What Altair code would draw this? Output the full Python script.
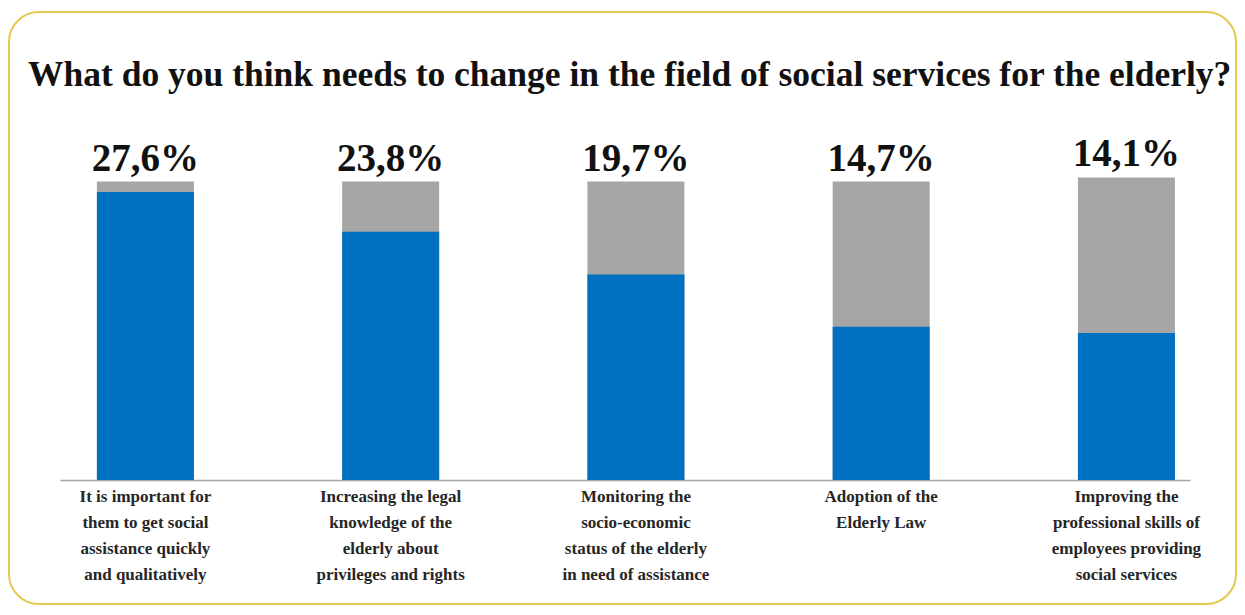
import altair as alt
import pandas as pd

title_text = "What do you think needs to change in the field of social services for the elderly?"
categories = [
    "It is important  for|them to get social|assistance quickly|and qualitatively",
    "Increasing the legal|knowledge of the|elderly  about|privileges and rights",
    "Monitoring  the|socio-economic|status of the elderly|in need of assistance",
    "Adoption of the|Elderly  Law",
    "Improving the|professional skills of|employees providing|social services",
]
values = [27.6, 23.8, 19.7, 14.7, 14.1]
value_labels = ["27,6%", "23,8%", "19,7%", "14,7%", "14,1%"]
totals = [28.6, 28.6, 28.6, 28.6, 29.0]

df = pd.DataFrame({
    "category": categories,
    "value": values,
    "label": value_labels,
    "total": totals,
})

x = alt.X(
    "category:N",
    sort=None,
    scale=alt.Scale(paddingInner=0.6045, paddingOuter=0.106, align=0.71),
    axis=alt.Axis(
        title=None,
        labelAngle=0,
        labelExpr="split(datum.label, '|')",
        labelFont="Liberation Serif",
        labelFontWeight="bold",
        labelFontSize=17,
        labelLineHeight=26,
        labelColor="#262626",
        labelLimit=0,
        labelPadding=8,
        ticks=False,
        domainColor="#a6a6a6",
        domainWidth=1.5,
    ),
)
yscale = alt.Scale(domain=[0, 30])

base = alt.Chart(df)

grey = base.mark_bar(color="#a6a6a6").encode(
    x=x,
    y=alt.Y("total:Q", scale=yscale, axis=None),
)
blue = base.mark_bar(color="#0070c0").encode(
    x=x,
    y=alt.Y("value:Q", scale=yscale, axis=None),
)
text = base.mark_text(
    font="Liberation Serif",
    fontWeight="bold",
    fontSize=39,
    color="#111111",
    baseline="alphabetic",
    dy=-11,
).encode(
    x=x,
    y=alt.Y("total:Q", scale=yscale, axis=None),
    text="label:N",
)

one = alt.Data(values=[{"t": title_text}])

frame = alt.Chart(one).mark_rect(
    filled=False,
    stroke="#e6c84f",
    strokeWidth=2,
    cornerRadius=30,
).encode(
    x=alt.value(-51),
    x2=alt.value(1176),
    y=alt.value(-155),
    y2=alt.value(437),
)

title = alt.Chart(one).mark_text(
    font="Liberation Serif",
    fontWeight="bold",
    fontSize=35.5,
    color="#111111",
    align="left",
    baseline="alphabetic",
).encode(
    x=alt.value(-32),
    y=alt.value(-81),
    text="t:N",
)

chart = alt.layer(frame, title, grey, blue, text).properties(
    width=1130,
    height=313,
    autosize=alt.AutoSizeParams(type="none"),
    padding={"left": 52, "top": 159, "right": 47, "bottom": 127},
).configure_view(stroke=None)

chart.save("out.html", embed_options={"renderer": "svg", "actions": False})
